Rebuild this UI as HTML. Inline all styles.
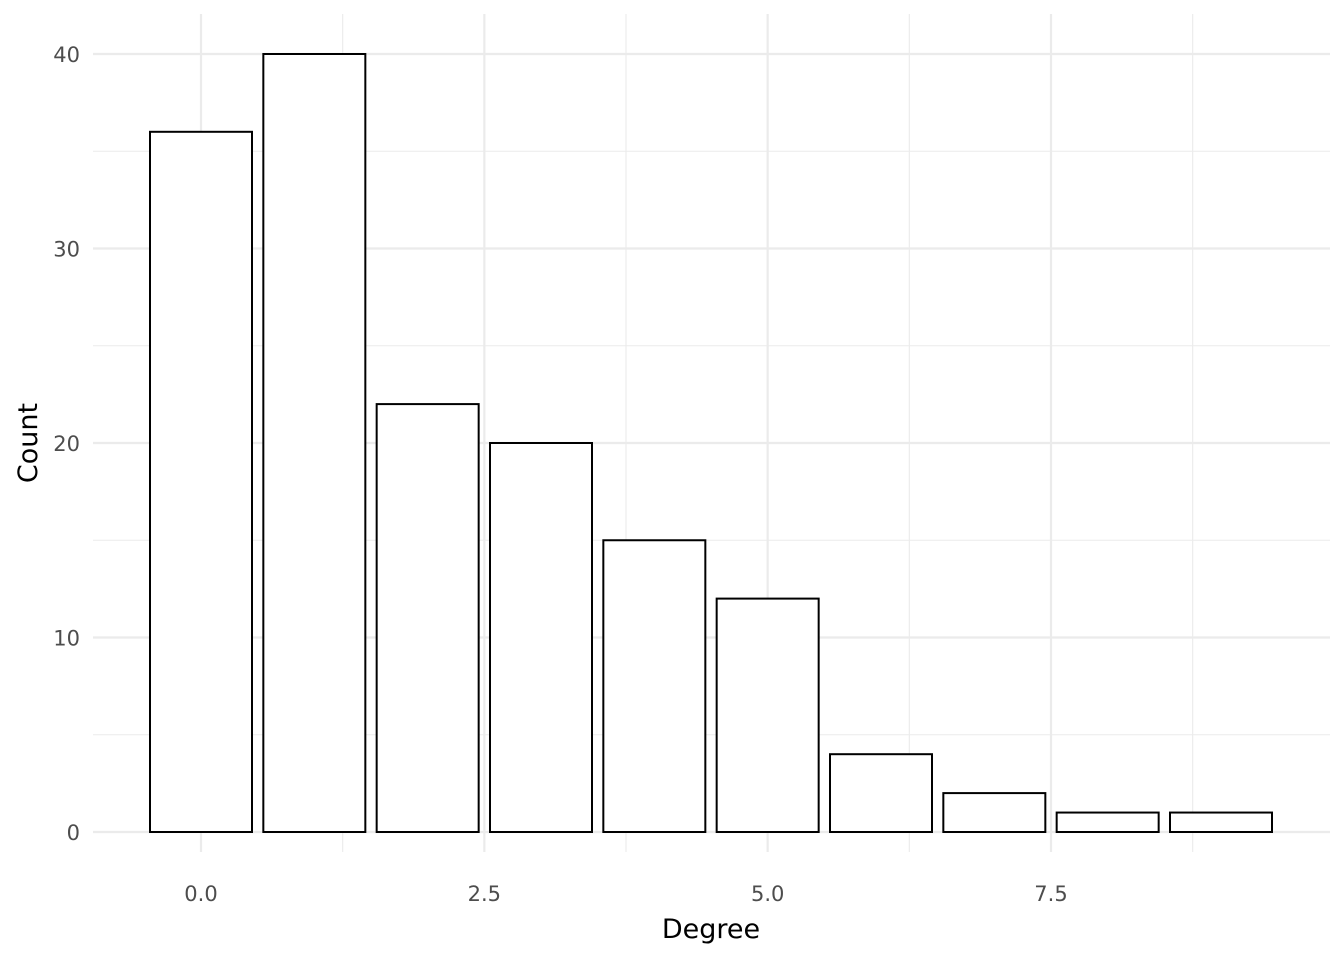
<!DOCTYPE html>
<html><head><meta charset="utf-8"><style>
body{margin:0;background:#fff;}
svg{display:block;font-family:"DejaVu Sans","Liberation Sans",sans-serif;}
</style></head><body>
<svg id="chart" width="1344" height="960">
<g id="grid"></g>
<g id="bars"></g>
<g id="xticks"></g>
<g id="yticks"></g>
<text x="711" y="938" text-anchor="middle" font-size="27" fill="#000">Degree</text>
<text transform="translate(37,443) rotate(-90)" text-anchor="middle" font-size="27" fill="#000">Count</text>
</svg>
<script>
const categories = [0,1,2,3,4,5,6,7,8,9];
const counts = [36,40,22,20,15,12,4,2,1,1];
const xTickLabels = ["0.0","2.5","5.0","7.5"];
const xTickValues = [0,2.5,5,7.5];
const yTickValues = [0,10,20,30,40];

const NS="http://www.w3.org/2000/svg";
const px0=201, pxUnit=(1051-201)/7.5;
const py0=832, pyUnit=(832-54)/40;
const x=v=>px0+v*pxUnit, y=v=>py0-v*pyUnit;
const L=93,R=1330,T=14,B=852;
function mk(tag,attrs,parent){const e=document.createElementNS(NS,tag);for(const k in attrs)e.setAttribute(k,attrs[k]);parent.appendChild(e);return e;}
const grid=document.getElementById('grid');
for(let v=-1.25; v<=9.5; v+=2.5){ if(x(v)>L&&x(v)<R){const l=mk('line',{x1:x(v),x2:x(v),y1:T,y2:B,stroke:'#ebebeb','stroke-width':1.1},grid);

}}
for(let v=5; v<=45; v+=10){ if(y(v)>T){const l=mk('line',{x1:L,x2:R,y1:y(v),y2:y(v),stroke:'#ebebeb','stroke-width':1.1},grid);

}}
xTickValues.forEach(v=>{const l=mk('line',{x1:x(v),x2:x(v),y1:T,y2:B,stroke:'#ebebeb','stroke-width':2.2},grid);

});
yTickValues.forEach(v=>{const l=mk('line',{x1:L,x2:R,y1:y(v),y2:y(v),stroke:'#ebebeb','stroke-width':2.2},grid);

});
const bars=document.getElementById('bars');
categories.forEach((c,i)=>{const w=0.9*pxUnit;
const r=mk('rect',{x:x(c)-w/2,y:y(counts[i]),width:w,height:y(0)-y(counts[i]),fill:'#fff',stroke:'#000','stroke-width':2},bars);

});
const xt=document.getElementById('xticks');
xTickValues.forEach((v,i)=>{const t=mk('text',{x:x(v),y:901,'text-anchor':'middle','font-size':21,fill:'#4d4d4d'},xt);t.textContent=xTickLabels[i];

});
const yt=document.getElementById('yticks');
yTickValues.forEach(v=>{const t=mk('text',{x:80,y:y(v)+8,'text-anchor':'end','font-size':21,fill:'#4d4d4d'},yt);t.textContent=v;

});
</script>
</body></html>
